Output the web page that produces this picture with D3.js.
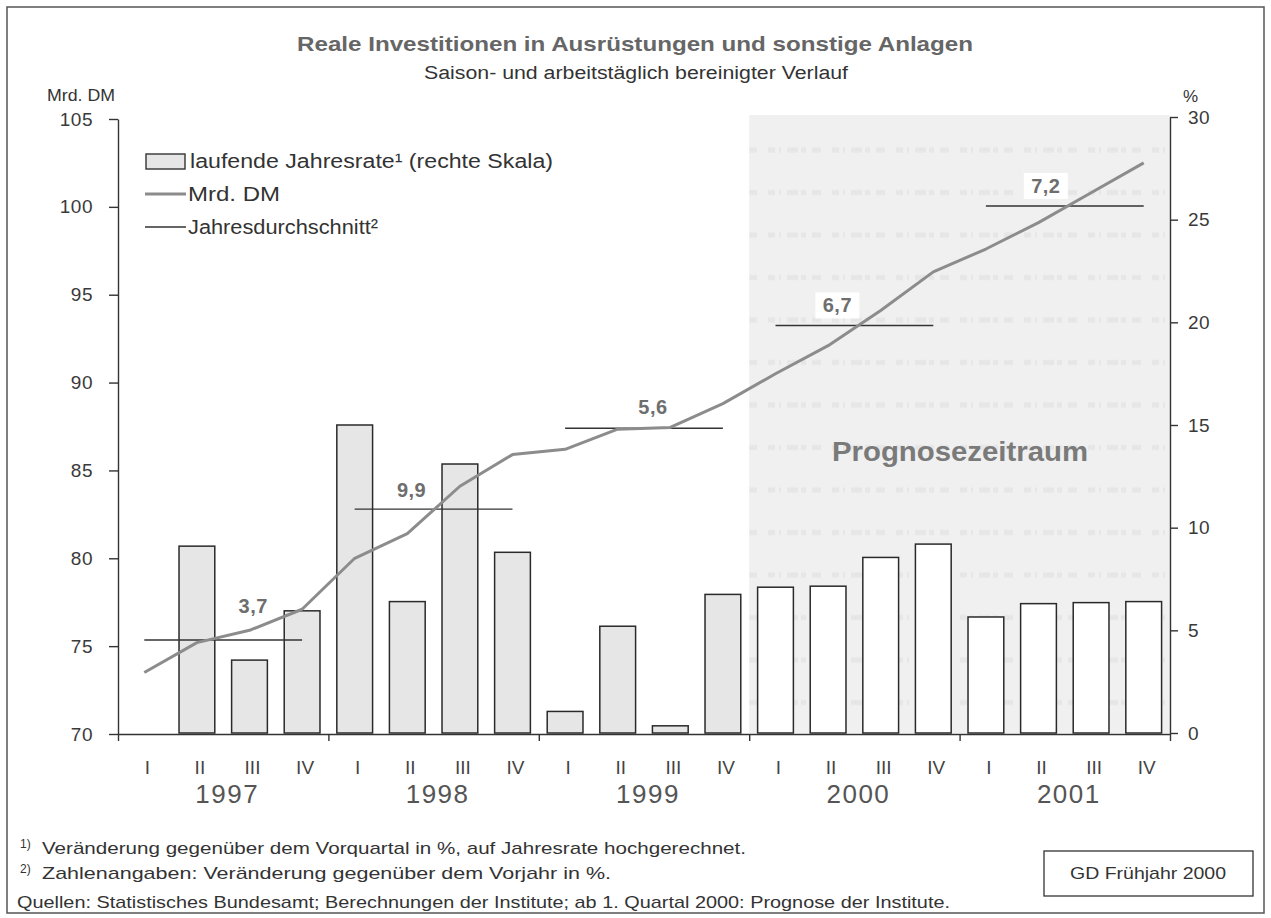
<!DOCTYPE html>
<html>
<head>
<meta charset="utf-8">
<script src="https://cdnjs.cloudflare.com/ajax/libs/d3/7.8.5/d3.min.js"></script>
<style>
  body { margin: 0; background: #ffffff; }
  svg text { font-family: "Liberation Sans", Arial, Helvetica, sans-serif; }
</style>
</head>
<body>
<div id="chart"></div>
<script>
  // years and quarters on the x axis
  const years = ["1997", "1998", "1999", "2000", "2001"];
  const quarters = ["I", "II", "III", "IV"];

  // laufende Jahresrate in % (right scale), no bar for 1997 I
  const rate = [null, 9.1, 3.55, 5.95, 15.0, 6.4, 13.1, 8.8, 1.05, 5.2, 0.35, 6.75,
    7.1, 7.15, 8.55, 9.2, 5.65, 6.3, 6.35, 6.4];

  // Mrd. DM (left scale)
  const level = [73.5, 75.2, 75.9, 77.1, 80.0, 81.4, 84.1, 85.9, 86.2, 87.35, 87.45, 88.8,
    90.5, 92.1, 94.1, 96.3, 97.6, 99.1, 100.8, 102.5];

  // Jahresdurchschnitt in Mrd. DM and the change against the year before
  const yearAvg = [75.35, 82.8, 87.4, 93.25, 100.05];
  const yearChange = ["3,7", "9,9", "5,6", "6,7", "7,2"];

  // forecast starts with 2000 I
  const forecastYear = "2000";

  const leftTicks = [70, 75, 80, 85, 90, 95, 100, 105];
  const rightTicks = [0, 5, 10, 15, 20, 25, 30];

  // where the change labels sit relative to the middle of their year line
  const labelShift = [[30, -34], [-22, -19], [9, -21], [-17, -20], [-19, -20]];

  const width = 1271;
  const height = 918;

  // one entry per quarter
  const rows = [];
  years.forEach(function(yr, i) {
    quarters.forEach(function(q, j) {
      const k = i * 4 + j;
      rows.push({ key: yr + "-" + q, year: yr, q: q, rate: rate[k], level: level[k] });
    });
  });

  const svg = d3.select("#chart")
    .append("svg")
    .attr("width", width)
    .attr("height", height);

  //x scales: band for the bars, linear one for the year ticks
  const x = d3.scaleBand()
    .domain(rows.map(d => d.key))
    .range([118, 1170])
    .paddingInner(0.32)
    .paddingOuter(0.16);

  const xYear = d3.scaleLinear()
    .domain([0, 20])
    .range([118, 1170]);

  const yLeft = d3.scaleLinear()
    .domain([70, 105])
    .range([734, 119]);

  const yRight = d3.scaleLinear()
    .domain([0, 30])
    .range([733, 117]);

  const mid = d => x(d) + x.bandwidth() / 2;

  // helper for text stretched to the width it has in the scan
  function stretchText(sel, len) {
    return sel.attr("textLength", len).attr("lengthAdjust", "spacingAndGlyphs");
  }

  // outer frame
  svg.append("rect")
    .attr("x", 7).attr("y", 7)
    .attr("width", 1257).attr("height", 906)
    .attr("fill", "none")
    .attr("stroke", "#555")
    .attr("stroke-width", 1.5);

  // texture for the forecast area
  const pattern = svg.append("defs")
    .append("pattern")
    .attr("id", "grain")
    .attr("patternUnits", "userSpaceOnUse")
    .attr("width", 64)
    .attr("height", 42.5)
    .attr("y", 129);
  pattern.append("rect")
    .attr("width", 64).attr("height", 42.5)
    .attr("fill", "#f0f0f0");
  pattern.append("line")
    .attr("x1", 0).attr("x2", 64)
    .attr("y1", 21).attr("y2", 21)
    .attr("stroke", "#e6e6e6")
    .attr("stroke-width", 5)
    .attr("stroke-dasharray", "7 4 2 6 11 3 5 6 9 11");

  const forecastX = xYear(years.indexOf(forecastYear) * 4);
  svg.append("rect")
    .attr("x", forecastX)
    .attr("y", yRight(30) - 2)
    .attr("width", 1170 - forecastX)
    .attr("height", yRight(0) - yRight(30) + 2)
    .attr("fill", "url(#grain)");

  svg.append("text")
    .attr("x", 832)
    .attr("y", 461)
    .attr("font-size", 27)
    .attr("font-weight", "bold")
    .attr("fill", "#7a7a7a")
    .call(stretchText, 256)
    .text("Prognosezeitraum");

  // bars, forecast quarters are white
  svg.selectAll(".rateBar")
    .data(rows.filter(d => d.rate != null))
    .enter()
    .append("rect")
    .attr("class", "rateBar")
    .attr("x", d => x(d.key))
    .attr("y", d => yRight(d.rate))
    .attr("width", x.bandwidth())
    .attr("height", d => yRight(0) - yRight(d.rate))
    .attr("fill", d => +d.year >= +forecastYear ? "#ffffff" : "#e6e6e6")
    .attr("stroke", "#2a2a2a")
    .attr("stroke-width", 1.5);

  // annual average lines
  years.forEach(function(yr, i) {
    const x1 = mid(yr + "-I");
    const x2 = mid(yr + "-IV");
    const yy = yLeft(yearAvg[i]);
    svg.append("line")
      .attr("x1", x1).attr("x2", x2)
      .attr("y1", yy).attr("y2", yy)
      .attr("stroke", "#333")
      .attr("stroke-width", 1.4);
  });

  // Mrd. DM line
  svg.append("path")
    .datum(rows)
    .attr("fill", "none")
    .attr("stroke", "#8c8c8c")
    .attr("stroke-width", 3)
    .attr("stroke-linejoin", "round")
    .attr("d", d3.line()
      .x(d => mid(d.key))
      .y(d => yLeft(d.level)));

  // change labels, the forecast ones get a white box
  years.forEach(function(yr, i) {
    const cx = (mid(yr + "-I") + mid(yr + "-IV")) / 2 + labelShift[i][0];
    const cy = yLeft(yearAvg[i]) + labelShift[i][1];
    if (+yr >= +forecastYear) {
      svg.append("rect")
        .attr("x", cx - 22).attr("y", cy - 13)
        .attr("width", 44).attr("height", 26)
        .attr("fill", "#ffffff");
    }
    svg.append("text")
      .attr("x", cx)
      .attr("y", cy + 7)
      .attr("text-anchor", "middle")
      .attr("font-size", 20)
      .attr("font-weight", "bold")
      .attr("letter-spacing", 0.5)
      .attr("fill", "#6e6e6e")
      .text(yearChange[i]);
  });

  //left axis
  const axisLeft = svg.append("g")
    .attr("transform", "translate(118,0)")
    .call(d3.axisLeft(yLeft).tickValues(leftTicks).tickSize(9).tickSizeOuter(0).tickPadding(16));

  //right axis
  const axisRight = svg.append("g")
    .attr("transform", "translate(1170,0)")
    .call(d3.axisRight(yRight).tickValues(rightTicks).tickSize(8).tickSizeOuter(0).tickPadding(10));

  //bottom axis with ticks between years
  const axisBottom = svg.append("g")
    .attr("transform", "translate(0,734)")
    .call(d3.axisBottom(xYear).tickValues([0, 4, 8, 12, 16, 20]).tickSize(7).tickSizeOuter(0).tickFormat(""));

  [axisLeft, axisRight, axisBottom].forEach(function(g) {
    g.selectAll("path, line").attr("stroke", "#333").attr("stroke-width", 1.4);
    g.selectAll("text")
      .attr("font-size", 19)
      .attr("letter-spacing", 0.5)
      .attr("fill", "#3a3a3a")
      .attr("font-family", "'Liberation Sans', Arial, sans-serif");
  });

  // quarter labels
  svg.selectAll(".qLabel")
    .data(rows)
    .enter()
    .append("text")
    .attr("class", "qLabel")
    .attr("x", d => mid(d.key) + 3)
    .attr("y", 774)
    .attr("text-anchor", "middle")
    .attr("font-size", 19)
    .attr("fill", "#444")
    .style("font-family", "'Liberation Sans Narrow', 'Liberation Sans', Arial, sans-serif")
    .text(d => d.q);

  // year labels
  svg.selectAll(".yLabel")
    .data(years)
    .enter()
    .append("text")
    .attr("class", "yLabel")
    .attr("x", d => (mid(d + "-II") + mid(d + "-III")) / 2 + 4)
    .attr("y", 803)
    .attr("text-anchor", "middle")
    .attr("font-size", 26)
    .attr("letter-spacing", 1.5)
    .attr("fill", "#555")
    .text(d => d);

  // titles and unit labels
  svg.append("text")
    .attr("x", 297).attr("y", 51)
    .attr("font-size", 21)
    .attr("font-weight", "bold")
    .attr("fill", "#666")
    .call(stretchText, 676)
    .text("Reale Investitionen in Ausrüstungen und sonstige Anlagen");

  svg.append("text")
    .attr("x", 424).attr("y", 79)
    .attr("font-size", 18)
    .attr("fill", "#333")
    .call(stretchText, 424)
    .text("Saison- und arbeitstäglich bereinigter Verlauf");

  svg.append("text")
    .attr("x", 47).attr("y", 101)
    .attr("font-size", 17)
    .attr("fill", "#333")
    .call(stretchText, 68)
    .text("Mrd. DM");

  svg.append("text")
    .attr("x", 1183).attr("y", 102)
    .attr("font-size", 17)
    .attr("fill", "#333")
    .text("%");

  // legend
  const legend = svg.append("g");
  legend.append("rect")
    .attr("x", 146).attr("y", 154)
    .attr("width", 39).attr("height", 15)
    .attr("fill", "#e6e6e6")
    .attr("stroke", "#333")
    .attr("stroke-width", 1.4);
  legend.append("line")
    .attr("x1", 145).attr("x2", 186)
    .attr("y1", 194).attr("y2", 194)
    .attr("stroke", "#8c8c8c")
    .attr("stroke-width", 3);
  legend.append("line")
    .attr("x1", 145).attr("x2", 186)
    .attr("y1", 227).attr("y2", 227)
    .attr("stroke", "#333")
    .attr("stroke-width", 1.4);
  const legendText = ["laufende Jahresrate¹ (rechte Skala)", "Mrd. DM", "Jahresdurchschnitt²"];
  const legendLen = [363, 92, 190];
  legend.selectAll("text")
    .data(legendText)
    .enter()
    .append("text")
    .attr("x", (d, i) => i == 0 ? 190 : 188)
    .attr("y", (d, i) => 168 + i * 33)
    .attr("font-size", 20)
    .attr("fill", "#333")
    .attr("textLength", (d, i) => legendLen[i])
    .attr("lengthAdjust", "spacingAndGlyphs")
    .text(d => d);

  // footnotes
  const notes = [
    ["1)", "Veränderung gegenüber dem Vorquartal in %, auf Jahresrate hochgerechnet.", 854, 704],
    ["2)", "Zahlenangaben: Veränderung gegenüber dem Vorjahr in %.", 879, 569]
  ];
  notes.forEach(function(n) {
    svg.append("text")
      .attr("x", 20).attr("y", n[2] - 6)
      .attr("font-size", 12)
      .attr("fill", "#333")
      .text(n[0]);
    svg.append("text")
      .attr("x", 42).attr("y", n[2])
      .attr("font-size", 17)
      .attr("fill", "#333")
      .call(stretchText, n[3])
      .text(n[1]);
  });
  svg.append("text")
    .attr("x", 17).attr("y", 908)
    .attr("font-size", 17)
    .attr("fill", "#333")
    .call(stretchText, 933)
    .text("Quellen: Statistisches Bundesamt; Berechnungen der Institute; ab 1. Quartal 2000: Prognose der Institute.");

  svg.append("rect")
    .attr("x", 1044).attr("y", 851)
    .attr("width", 209).attr("height", 45)
    .attr("fill", "#ffffff")
    .attr("stroke", "#333")
    .attr("stroke-width", 1.3);
  svg.append("text")
    .attr("x", 1070).attr("y", 879)
    .attr("font-size", 17)
    .attr("fill", "#333")
    .call(stretchText, 156)
    .text("GD Frühjahr 2000");
</script>
</body>
</html>
